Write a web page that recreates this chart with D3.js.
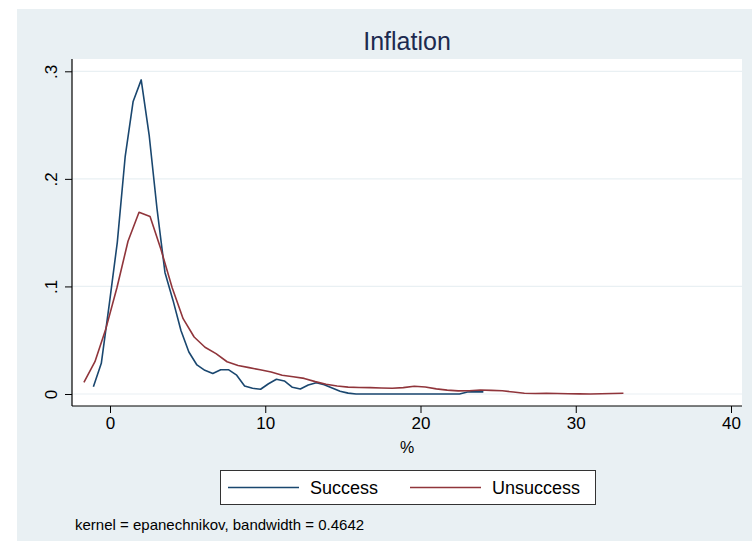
<!DOCTYPE html>
<html>
  <head>
    <meta charset="utf-8" />
    <style>
      body { margin: 0; background: #ffffff; }
      svg { display: block; font-family: "Liberation Sans", Arial, sans-serif; }
      .axis path { display: none; }
      .axis line { stroke: #000000; }
      .axis text { font-size: 17px; fill: #000000; }
    </style>
  </head>
  <body>
    <div id="chart"></div>
    <script src="https://d3js.org/d3.v7.min.js"></script>
    <script>
    // kernel density estimates
    var successX = [-1.07, -0.56, -0.05, 0.47, 0.98, 1.49, 2.01, 2.52, 3.03, 3.54,
                    4.06, 4.57, 5.08, 5.60, 6.11, 6.62, 7.13, 7.65, 8.16, 8.67,
                    9.18, 9.70, 10.21, 10.72, 11.23, 11.75, 12.26, 12.77, 13.29, 13.80,
                    14.31, 14.82, 15.34, 15.85, 16.36, 16.87, 17.39, 17.90, 18.41, 18.93,
                    19.44, 19.95, 20.46, 20.98, 21.49, 22.00, 22.51, 23.03, 23.54, 24.05];
    var successY = [0.0068, 0.0285, 0.083, 0.141, 0.221, 0.272, 0.292, 0.241, 0.172, 0.113,
                    0.087, 0.059, 0.039, 0.027, 0.022, 0.019, 0.0225, 0.0225, 0.0175, 0.0075,
                    0.0053, 0.0044, 0.0095, 0.0137, 0.0121, 0.0062, 0.0046, 0.0084, 0.0105, 0.0086,
                    0.0055, 0.0025, 0.0008, 0, 0, 0, 0, 0, 0, 0,
                    0, 0, 0, 0, 0, 0, 0, 0.0018, 0.0022, 0.002];

    var unsuccessX = [-1.68, -0.97, -0.26, 0.45, 1.16, 1.87, 2.58, 3.29, 4.00, 4.71,
                      5.42, 6.12, 6.83, 7.54, 8.25, 8.96, 9.67, 10.38, 11.09, 11.80,
                      12.51, 13.22, 13.92, 14.63, 15.34, 16.05, 16.76, 17.47, 18.18, 18.89,
                      19.60, 20.31, 21.02, 21.72, 22.43, 23.14, 23.85, 24.56, 25.27, 25.98,
                      26.69, 27.40, 28.11, 28.82, 29.52, 30.23, 30.94, 31.65, 32.36, 33.07];
    var unsuccessY = [0.0109, 0.030, 0.061, 0.099, 0.142, 0.169, 0.165, 0.134, 0.099, 0.070,
                      0.053, 0.0435, 0.0375, 0.030, 0.0265, 0.0245, 0.0225, 0.0205, 0.0175, 0.016,
                      0.0145, 0.0115, 0.009, 0.0074, 0.0064, 0.006, 0.0059, 0.0056, 0.0053, 0.0059,
                      0.0072, 0.0065, 0.0048, 0.0036, 0.0029, 0.003, 0.0037, 0.0034, 0.003, 0.0018,
                      0.0007, 0.0005, 0.0006, 0.0004, 0.0003, 0.0001, 0, 0.0002, 0.0005, 0.0007];

    var xTicks = [0, 10, 20, 30, 40];
    var yTicks = [0, 0.1, 0.2, 0.3];
    var seriesNames = ['Success', 'Unsuccess'];
    var seriesColors = ['#1a476f', '#90353b'];

    var width = 752,
        height = 543;

    // plot region box
    var box = { left: 72, top: 59, right: 742, bottom: 406 };

    var x = d3.scaleLinear().domain([0, 40]).range([110, 731]);
    var y = d3.scaleLinear().domain([0, 0.3]).range([394, 71.3]);

    var svg = d3.select('#chart')
      .append('svg')
      .attr('width', width)
      .attr('height', height);

    // graph region
    svg.append('rect')
      .attr('x', 17).attr('y', 9)
      .attr('width', width - 17).attr('height', 532)
      .attr('fill', '#e9f0f3');

    // plot region
    svg.append('rect')
      .attr('x', box.left).attr('y', box.top)
      .attr('width', box.right - box.left).attr('height', box.bottom - box.top)
      .attr('fill', '#ffffff');

    // gridlines
    svg.append('g')
      .selectAll('line')
      .data(yTicks)
      .enter().append('line')
      .attr('x1', box.left).attr('x2', box.right)
      .attr('y1', function(d) { return y(d); })
      .attr('y2', function(d) { return y(d); })
      .attr('stroke', '#e9f0f3')
      .attr('stroke-width', 1.2);

    // curves
    var line = d3.line()
      .x(function(d) { return x(d[0]); })
      .y(function(d) { return y(d[1]); });

    var series = [d3.zip(successX, successY), d3.zip(unsuccessX, unsuccessY)];

    svg.append('g')
      .selectAll('path')
      .data(series)
      .enter().append('path')
      .attr('d', line)
      .attr('fill', 'none')
      .attr('stroke', function(d, i) { return seriesColors[i]; })
      .attr('stroke-width', 1.6)
      .attr('stroke-linejoin', 'round');

    // axes
    var xAxis = svg.append('g')
      .attr('class', 'axis')
      .attr('transform', 'translate(0,' + box.bottom + ')')
      .call(d3.axisBottom(x).tickValues(xTicks).tickSize(7).tickPadding(4));
    xAxis.selectAll('text').attr('dy', '0.71em');

    var yAxis = svg.append('g')
      .attr('class', 'axis')
      .attr('transform', 'translate(' + box.left + ',0)')
      .call(d3.axisLeft(y).tickValues(yTicks).tickSize(7)
        .tickFormat(function(d) { return d === 0 ? '0' : d3.format('.1f')(d).replace(/^0/, ''); }));
    yAxis.selectAll('text')
      .attr('text-anchor', 'middle')
      .attr('x', null).attr('dy', null)
      .attr('transform', 'translate(-15,0) rotate(-90)');

    // axis lines
    svg.append('line')
      .attr('x1', box.left).attr('x2', box.left)
      .attr('y1', box.top).attr('y2', box.bottom)
      .attr('stroke', '#000000').attr('stroke-width', 1.2);
    svg.append('line')
      .attr('x1', box.left).attr('x2', box.right)
      .attr('y1', box.bottom).attr('y2', box.bottom)
      .attr('stroke', '#000000').attr('stroke-width', 1.2);

    // titles
    svg.append('text')
      .attr('x', (box.left + box.right) / 2).attr('y', 50)
      .attr('text-anchor', 'middle')
      .attr('font-size', '25px')
      .attr('fill', '#1c2a4f')
      .text('Inflation');

    svg.append('text')
      .attr('x', (box.left + box.right) / 2).attr('y', 453)
      .attr('text-anchor', 'middle')
      .attr('font-size', '16px')
      .text('%');

    // legend
    var legend = svg.append('g');
    legend.append('rect')
      .attr('x', 220.5).attr('y', 470.5)
      .attr('width', 375).attr('height', 34)
      .attr('fill', '#ffffff')
      .attr('stroke', '#333333');

    var legendX = [228, 410];
    var item = legend.selectAll('g.item')
      .data(seriesNames)
      .enter().append('g')
      .attr('class', 'item')
      .attr('transform', function(d, i) { return 'translate(' + legendX[i] + ',487.5)'; });

    item.append('line')
      .attr('x1', 0).attr('x2', 71)
      .attr('stroke', function(d, i) { return seriesColors[i]; })
      .attr('stroke-width', 1.6);

    item.append('text')
      .attr('x', 82).attr('dy', '0.36em')
      .attr('font-size', '18px')
      .text(function(d) { return d; });

    // note
    svg.append('text')
      .attr('x', 75).attr('y', 530)
      .attr('font-size', '15px')
      .text('kernel = epanechnikov, bandwidth = 0.4642');
    </script>
  </body>
</html>
